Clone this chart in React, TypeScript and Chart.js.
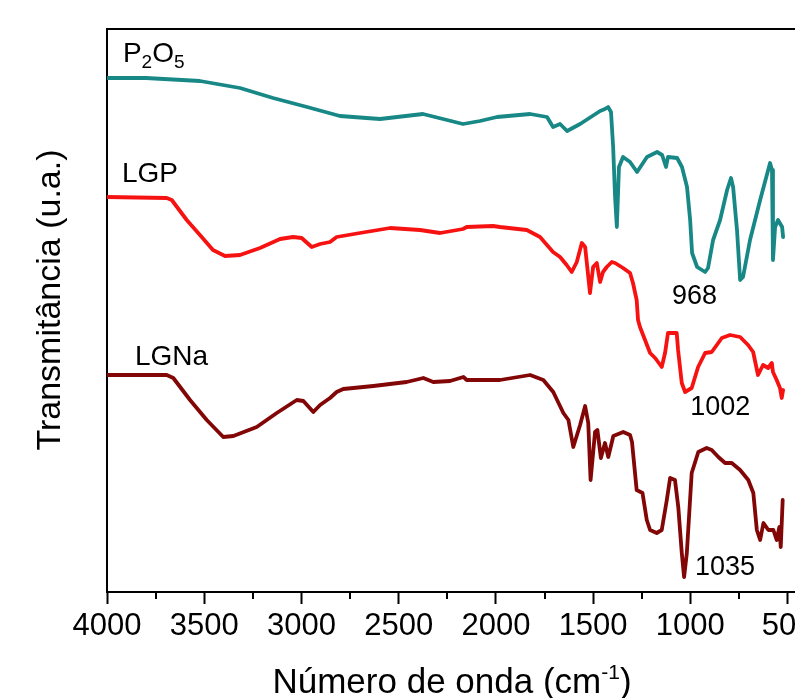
import React, { useEffect, useRef } from 'react';
import { Chart, registerables } from 'chart.js';

Chart.register(...registerables);

// ---------- data (wavenumber in cm-1, transmittance in arbitrary units) ----------
const p2o5Wavenumber = [4000, 3800, 3522, 3316, 3146, 2971, 2802, 2596, 2375, 2169, 2082, 1994, 1824, 1737, 1706, 1670, 1634, 1567, 1464, 1439, 1423, 1408, 1397, 1387, 1378, 1367, 1346, 1310, 1274, 1223, 1171, 1145, 1125, 1115, 1068, 1043, 1017, 1001, 991, 965, 924, 909, 883, 847, 811, 791, 780, 760, 744, 729, 693, 641, 590, 580, 575, 564, 549, 528, 523];
const p2o5Transmittance = [51.4, 51.4, 51.1, 50.4, 49.4, 48.5, 47.6, 47.3, 47.8, 46.8, 47.1, 47.5, 47.8, 47.5, 46.5, 46.8, 46.1, 46.8, 48.1, 48.3, 48.5, 48.0, 44.5, 39.5, 36.5, 42.5, 43.5, 43.0, 42.0, 43.5, 44.0, 43.7, 42.5, 43.5, 43.4, 42.5, 40.5, 37.2, 33.9, 32.5, 32.0, 32.4, 35.2, 37.2, 40.2, 41.4, 40.5, 36.2, 31.2, 31.5, 35.2, 39.2, 42.9, 42.2, 33.2, 36.5, 37.2, 36.5, 35.5];

const lgpWavenumber = [4000, 3693, 3667, 3590, 3522, 3455, 3393, 3316, 3213, 3110, 3043, 2999, 2947, 2904, 2853, 2819, 2699, 2544, 2390, 2287, 2169, 2150, 2015, 1979, 1841, 1773, 1706, 1670, 1636, 1610, 1584, 1558, 1541, 1516, 1500, 1481, 1464, 1449, 1430, 1404, 1387, 1346, 1310, 1295, 1276, 1269, 1259, 1207, 1181, 1147, 1130, 1115, 1070, 1063, 1044, 1027, 993, 960, 924, 890, 838, 796, 744, 703, 677, 652, 626, 600, 581, 575, 556, 539, 530, 523];
const lgpTransmittance = [39.5, 39.4, 39.2, 37.2, 35.7, 34.2, 33.6, 33.7, 34.4, 35.3, 35.5, 35.4, 34.5, 34.8, 35.0, 35.5, 35.9, 36.4, 36.2, 35.9, 36.3, 36.5, 36.6, 36.5, 36.2, 35.5, 34.0, 33.5, 32.7, 32.0, 33.0, 34.9, 34.5, 29.9, 32.5, 32.9, 31.0, 32.0, 32.5, 33.0, 32.9, 32.4, 31.9, 30.9, 29.2, 27.2, 26.5, 23.9, 23.4, 22.5, 23.9, 25.9, 25.9, 24.2, 20.9, 20.0, 20.4, 22.5, 23.9, 24.0, 25.4, 25.7, 25.5, 24.7, 24.0, 21.7, 22.7, 22.4, 22.9, 22.0, 21.2, 20.4, 19.4, 20.2];

const lgnaWavenumber = [4000, 3693, 3659, 3573, 3487, 3402, 3350, 3230, 3127, 3024, 2990, 2939, 2904, 2853, 2819, 2785, 2630, 2459, 2373, 2322, 2236, 2167, 2150, 2030, 1979, 1824, 1756, 1705, 1653, 1627, 1602, 1567, 1541, 1525, 1513, 1490, 1478, 1460, 1439, 1422, 1396, 1345, 1310, 1300, 1276, 1246, 1224, 1207, 1173, 1147, 1121, 1104, 1079, 1062, 1044, 1032, 1018, 993, 959, 916, 890, 856, 821, 787, 744, 702, 676, 658, 641, 624, 599, 573, 556, 542, 535, 525];
const lgnaTransmittance = [21.7, 21.7, 21.4, 19.2, 17.2, 15.5, 15.6, 16.5, 17.9, 19.2, 19.1, 18.0, 18.7, 19.4, 20.0, 20.3, 20.6, 21.0, 21.4, 21.0, 21.1, 21.5, 21.2, 21.2, 21.2, 21.7, 21.2, 20.0, 17.9, 17.2, 14.5, 16.7, 18.6, 16.9, 11.2, 16.0, 16.2, 13.4, 14.9, 13.5, 15.6, 16.0, 15.7, 15.0, 10.2, 9.9, 7.2, 6.2, 5.9, 6.2, 9.2, 11.4, 11.2, 8.5, 3.9, 1.5, 3.9, 11.9, 14.0, 14.4, 14.2, 13.5, 12.9, 12.9, 12.2, 11.2, 9.9, 6.2, 5.2, 6.9, 6.2, 6.2, 5.2, 6.5, 4.5, 9.2];

const xMajorTicks = [4000, 3500, 3000, 2500, 2000, 1500, 1000, 500];
const xMinorTicks = [3750, 3250, 2750, 2250, 1750, 1250, 750];

const xAxisTitle = 'Número de onda (cm';
const xAxisTitleSup = '-1';
const yAxisTitle = 'Transmitância (u.a.)';

const peakLabels = ['968', '1002', '1035'];
const peakLabelAt = [
  [1094, 28.8],
  [1001, 17.7],
  [976, 1.7],
];
const seriesLabelAt = [
  [3918, 53.0],
  [3923, 41.0],
  [3856, 22.7],
];

const FONT = '"Liberation Sans", Arial, Helvetica, sans-serif';
const TEAL = '#178886';
const RED = '#f71212';
const WINE = '#820606';

type Run = { t: string; size: number; dy: number };

function drawRuns(ctx: CanvasRenderingContext2D, runs: Run[], x: number, y: number, align: 'left' | 'center') {
  let total = 0;
  const widths = runs.map((r) => {
    ctx.font = `${r.size}px ${FONT}`;
    const w = ctx.measureText(r.t).width;
    total += w;
    return w;
  });
  let cx = align === 'center' ? x - total / 2 : x;
  runs.forEach((r, i) => {
    ctx.font = `${r.size}px ${FONT}`;
    ctx.textAlign = 'left';
    ctx.textBaseline = 'alphabetic';
    ctx.fillText(r.t, cx, y + r.dy);
    cx += widths[i];
  });
}

const overlayPlugin = {
  id: 'overlay',
  afterDraw(chart: any) {
    const { ctx, chartArea: a, scales } = chart;
    const xs = scales.x;
    const ys = scales.y;
    ctx.save();
    ctx.strokeStyle = '#000';
    ctx.lineWidth = 2;
    // frame top / right
    ctx.beginPath();
    ctx.moveTo(a.left - 1, a.top);
    ctx.lineTo(a.right, a.top);
    ctx.lineTo(a.right, a.bottom);
    ctx.stroke();
    // minor ticks
    xMinorTicks.forEach((v) => {
      const px = Math.round(xs.getPixelForValue(v));
      ctx.beginPath();
      ctx.moveTo(px, a.bottom);
      ctx.lineTo(px, a.bottom + 7);
      ctx.stroke();
    });

    ctx.fillStyle = '#000';
    // series labels
    const names: Run[][] = [
      [
        { t: 'P', size: 28, dy: 0 },
        { t: '2', size: 19, dy: 6 },
        { t: 'O', size: 28, dy: 0 },
        { t: '5', size: 19, dy: 6 },
      ],
      [{ t: 'LGP', size: 28, dy: 0 }],
      [{ t: 'LGNa', size: 28, dy: 0 }],
    ];
    names.forEach((runs, i) => {
      const [wx, wy] = seriesLabelAt[i];
      drawRuns(ctx, runs, xs.getPixelForValue(wx), ys.getPixelForValue(wy), 'left');
    });
    // peak labels
    peakLabels.forEach((txt, i) => {
      const [wx, wy] = peakLabelAt[i];
      drawRuns(ctx, [{ t: txt, size: 27, dy: 0 }], xs.getPixelForValue(wx), ys.getPixelForValue(wy), 'left');
    });

    // x axis title
    drawRuns(
      ctx,
      [
        { t: xAxisTitle, size: 35, dy: 0 },
        { t: xAxisTitleSup, size: 21, dy: -14 },
        { t: ')', size: 35, dy: 0 },
      ],
      452,
      693,
      'center'
    );

    // y axis title
    ctx.save();
    ctx.translate(60, 300);
    ctx.rotate(-Math.PI / 2);
    ctx.font = `34px ${FONT}`;
    ctx.textAlign = 'center';
    ctx.textBaseline = 'alphabetic';
    ctx.fillText(yAxisTitle, 0, 0);
    ctx.restore();

    ctx.restore();
  },
};

function toPoints(xs: number[], ys: number[]) {
  return xs.map((x, i) => ({ x, y: ys[i] }));
}

export default function App() {
  const canvasRef = useRef<HTMLCanvasElement | null>(null);

  useEffect(() => {
    const canvas = canvasRef.current;
    if (!canvas) return;
    const chart = new Chart(canvas, {
      type: 'line',
      data: {
        datasets: [
          { label: 'P2O5', data: toPoints(p2o5Wavenumber, p2o5Transmittance), borderColor: TEAL },
          { label: 'LGP', data: toPoints(lgpWavenumber, lgpTransmittance), borderColor: RED },
          { label: 'LGNa', data: toPoints(lgnaWavenumber, lgnaTransmittance), borderColor: WINE },
        ],
      },
      options: {
        animation: false,
        responsive: false,
        devicePixelRatio: 1,
        layout: { padding: { top: 29, right: 23, left: 0, bottom: 0 } },
        plugins: { legend: { display: false }, tooltip: { enabled: false } },
        elements: {
          point: { radius: 0 },
          line: { tension: 0, borderWidth: 3.8, borderJoinStyle: 'round', borderCapStyle: 'round', fill: false },
        },
        scales: {
          x: {
            type: 'linear',
            reverse: true,
            min: 400,
            max: 4000,
            afterBuildTicks: (s: any) => {
              s.ticks = xMajorTicks.map((v) => ({ value: v }));
            },
            afterFit: (s: any) => {
              s.height = 106;
            },
            ticks: {
              autoSkip: false,
              maxRotation: 0,
              color: '#000',
              padding: 4,
              font: { family: FONT, size: 31 },
              callback: (v: any) => String(v),
            },
            grid: { display: true, drawOnChartArea: false, drawTicks: true, tickLength: 12, tickWidth: 2, tickColor: '#000' },
            border: { display: true, color: '#000', width: 2 },
          },
          y: {
            min: 0,
            max: 56.3,
            afterFit: (s: any) => {
              s.width = 107;
            },
            ticks: { display: false },
            grid: { display: false, drawTicks: false },
            border: { display: true, color: '#000', width: 2 },
          },
        },
      },
      plugins: [overlayPlugin],
    });
    return () => chart.destroy();
  }, []);

  return (
    <div style={{ position: 'fixed', left: 0, top: 0, width: 795, height: 698, overflow: 'hidden', background: '#fff' }}>
      <canvas ref={canvasRef} width={830} height={698} style={{ display: 'block', width: 830, height: 698 }} />
    </div>
  );
}
